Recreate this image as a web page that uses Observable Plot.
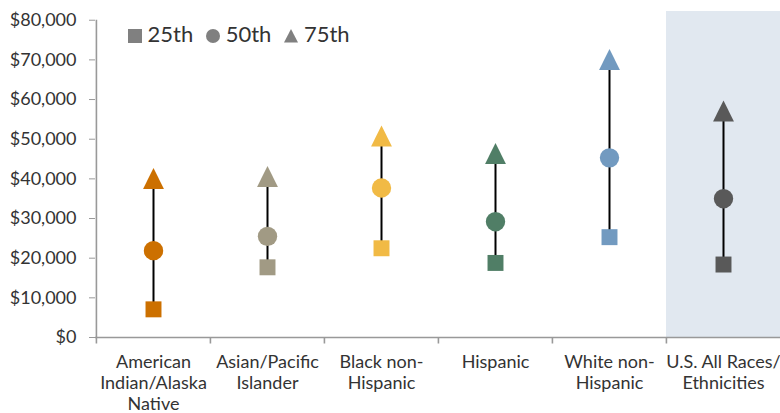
<!DOCTYPE html>
<html>
<head>
<meta charset="utf-8">
<script src="https://cdn.jsdelivr.net/npm/d3@7"></script>
<script src="https://cdn.jsdelivr.net/npm/@observablehq/plot@0.6"></script>
<style>
  html, body { margin: 0; padding: 0; background: #fff; }
  #wrap { position: relative; width: 780px; height: 413px; font-family: Lato, sans-serif; }
  #legend { position: absolute; left: 128px; top: 21px; display: flex; align-items: center; font-size: 22px; color: #333; line-height: 1.2; }
  #legend .item { display: flex; align-items: center; margin-right: 13px; }
  #legend svg { position: relative; top: 2px; margin-right: 5.5px; }
</style>
</head>
<body>
<div id="wrap">
  <div id="chart"></div>
  <div id="legend"></div>
</div>
<script>
// ---- data ----
const categories = [
  "American Indian/Alaska Native",
  "Asian/Pacific Islander",
  "Black non-Hispanic",
  "Hispanic",
  "White non-Hispanic",
  "U.S. All Races/Ethnicities"
];
const tickLabels = [
  "American\nIndian/Alaska\nNative",
  "Asian/Pacific\nIslander",
  "Black non-\nHispanic",
  "Hispanic",
  "White non-\nHispanic",
  "U.S. All Races/\nEthnicities"
];
const p25 = [7100, 17700, 22500, 18800, 25300, 18400];
const p50 = [21900, 25500, 37700, 29200, 45300, 35000];
const p75 = [40100, 40600, 50800, 46400, 70100, 57100];
const yTicks = [0, 10000, 20000, 30000, 40000, 50000, 60000, 70000, 80000];
const highlighted = ["U.S. All Races/Ethnicities"];
const legendLabels = ["25th", "50th", "75th"];

// ---- styles ----
const colors = ["#CC7000", "#A19A84", "#F1BA45", "#507E66", "#729AC0", "#595959"];
const W = 780, H = 413, mL = 95, mR = 0, mT = 11, mB = 76;
const yMax = 82200;
const bw = (W - mL - mR) / categories.length;

const table = categories.map((c, i) => ({cat: c, p25: p25[i], p50: p50[i], p75: p75[i]}));
const labelOf = new Map(categories.map((c, i) => [c, tickLabels[i]]));

const triangle = {
  draw(ctx, size) {
    const h = Math.sqrt(size / Math.PI) * 1.1;
    ctx.moveTo(0, -h);
    ctx.lineTo(h, h);
    ctx.lineTo(-h, h);
    ctx.closePath();
  }
};
const tickDown = {
  draw(ctx) { ctx.moveTo(0, 0); ctx.lineTo(0, 6); }
};

const chart = Plot.plot({
  width: W, height: H,
  marginLeft: mL, marginRight: mR, marginTop: mT, marginBottom: mB,
  style: {fontFamily: "Lato, sans-serif", fontSize: "18px", color: "#333", background: "#fff"},
  x: {domain: categories, type: "band", padding: 0},
  y: {domain: [0, yMax]},
  color: {domain: categories, range: colors},
  marks: [
    Plot.barY(highlighted, {x: d => d, y1: 0, y2: yMax, fill: "#E1E8F0"}),
    Plot.ruleY([0], {stroke: "#999", strokeWidth: 1.6}),
    Plot.ruleX([categories[0]], {x: d => d, dx: -bw / 2, y1: 0, y2: 80000, stroke: "#999", strokeWidth: 1.6}),
    Plot.dot(categories, {x: d => d, y: 0, dx: -bw / 2, symbol: tickDown, stroke: "#999", strokeWidth: 1.6}),
    Plot.axisY({ticks: yTicks, tickFormat: d => "$" + d3.format(",")(d), tickSize: 6, tickPadding: 13, stroke: "#999", fill: "#333", label: null}),
    Plot.axisX({tickSize: 0, tickPadding: 16, tickFormat: d => labelOf.get(d), lineHeight: 1.16, fill: "#333", label: null}),
    Plot.ruleX(table, {x: "cat", y1: "p25", y2: "p75", stroke: "#000", strokeWidth: 2}),
    Plot.dot(table, {x: "cat", y: "p25", symbol: "square", r: 9, fill: "cat"}),
    Plot.dot(table, {x: "cat", y: "p50", symbol: "circle", r: 9.7, fill: "cat"}),
    Plot.dot(table, {x: "cat", y: "p75", symbol: triangle, r: 9.5, fill: "cat"})
  ]
});
document.getElementById("chart").appendChild(chart);

// ---- legend ----
const legendSymbols = [
  '<svg width="14" height="14"><rect x="0" y="0" width="14" height="14" fill="#808080"/></svg>',
  '<svg width="14" height="14"><circle cx="7" cy="7" r="7" fill="#808080"/></svg>',
  '<svg width="14" height="14"><path d="M7,0L14,13.5L0,13.5Z" fill="#808080"/></svg>'
];
const legend = document.getElementById("legend");
legendLabels.forEach((lab, i) => {
  const item = document.createElement("div");
  item.className = "item";
  item.innerHTML = legendSymbols[i] + "<span>" + lab + "</span>";
  legend.appendChild(item);
});
</script>
</body>
</html>
